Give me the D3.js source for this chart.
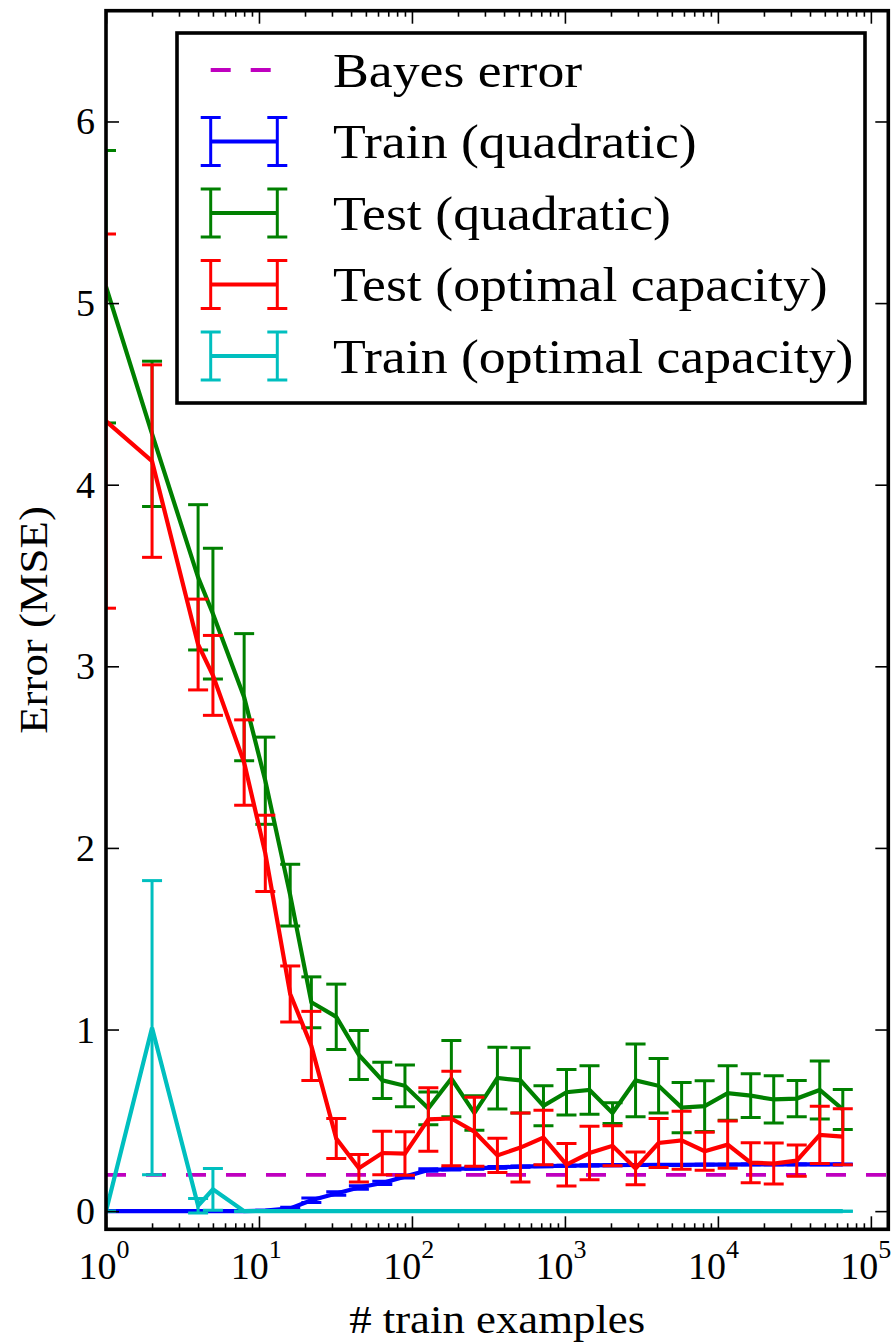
<!DOCTYPE html>
<html>
<head>
<meta charset="utf-8">
<script src="https://cdn.jsdelivr.net/npm/d3@7"></script>
<style>
  html, body { margin: 0; padding: 0; background: #fff; }
  svg { display: block; }
  svg text { font-family: "Liberation Serif", "DejaVu Serif", serif; }
</style>
</head>
<body>
<svg id="chart" width="894" height="1342"></svg>
<script>
// number of training examples (int(sqrt(2)^k), duplicates dropped)
const trainSizes = [1, 2, 4, 5, 8, 11, 16, 22, 32, 45, 64, 90, 128, 181, 256, 362, 512, 724,
    1024, 1448, 2048, 2896, 4096, 5792, 8192, 11585, 16384, 23170, 32768, 46340, 65536]

const trainQuadMean = [0, 0, 0, 0, 0, 0.003, 0.015, 0.06, 0.097, 0.13, 0.155, 0.19, 0.226, 0.232, 0.236, 0.241,
    0.245, 0.248, 0.25, 0.252, 0.253, 0.254, 0.255, 0.255, 0.256, 0.256, 0.257, 0.257, 0.257, 0.257, 0.257]
const trainQuadErr = [0, 0, 0, 0, 0, 0.002, 0.006, 0.012, 0.01, 0.01, 0.009, 0.008, 0.007, 0.006, 0.005, 0.005,
    0.004, 0.004, 0.003, 0.003, 0.003, 0.002, 0.002, 0.002, 0.002, 0.002, 0.002, 0.002, 0.002, 0.002, 0.002]

const testQuadMean = [5.09, 4.28, 3.49, 3.29, 2.83, 2.37, 1.74, 1.15, 1.07, 0.86, 0.72, 0.69, 0.566, 0.73, 0.54, 0.733,
    0.72, 0.58, 0.655, 0.667, 0.54, 0.72, 0.69, 0.57, 0.578, 0.65, 0.636, 0.615, 0.62, 0.667, 0.56]
const testQuadErr = [0.75, 0.40, 0.40, 0.36, 0.35, 0.24, 0.17, 0.14, 0.18, 0.135, 0.10, 0.115, 0.09, 0.21, 0.095, 0.17,
    0.18, 0.11, 0.125, 0.133, 0.057, 0.2, 0.15, 0.138, 0.14, 0.15, 0.12, 0.13, 0.1, 0.16, 0.11]

const testOptMean = [4.35, 4.13, 3.12, 2.95, 2.47, 1.97, 1.196, 0.91, 0.40, 0.236, 0.32, 0.317, 0.505, 0.51, 0.437, 0.307,
    0.35, 0.405, 0.256, 0.32, 0.36, 0.235, 0.375, 0.39, 0.33, 0.366, 0.267, 0.262, 0.278, 0.42, 0.41]
const testOptErr = [1.03, 0.53, 0.25, 0.22, 0.235, 0.21, 0.154, 0.19, 0.11, 0.076, 0.12, 0.12, 0.175, 0.26, 0.19, 0.094,
    0.19, 0.15, 0.117, 0.147, 0.11, 0.09, 0.135, 0.16, 0.105, 0.13, 0.11, 0.113, 0.086, 0.157, 0.154]

const trainOptMean = [0, 1.01, 0.03, 0.12, 0, 0, 0, 0, 0, 0, 0, 0, 0, 0, 0, 0,
    0, 0, 0, 0, 0, 0, 0, 0, 0, 0, 0, 0, 0, 0, 0]
const trainOptErr = [0, 0.81, 0.04, 0.115, 0, 0, 0, 0, 0, 0, 0, 0, 0, 0, 0, 0,
    0, 0, 0, 0, 0, 0, 0, 0, 0, 0, 0, 0, 0, 0, 0]

const bayesError = 0.2

const yTicks = [0, 1, 2, 3, 4, 5, 6]
const xDecades = [0, 1, 2, 3, 4, 5]

const legendLabels = ["Bayes error", "Train (quadratic)", "Test (quadratic)", "Test (optimal capacity)", "Train (optimal capacity)"]

const series = [
    {name: legendLabels[1], color: "#0000ff", mean: trainQuadMean, err: trainQuadErr},
    {name: legendLabels[2], color: "#008000", mean: testQuadMean, err: testQuadErr},
    {name: legendLabels[3], color: "#ff0000", mean: testOptMean, err: testOptErr},
    {name: legendLabels[4], color: "#00bfbf", mean: trainOptMean, err: trainOptErr}
]

const L = 106, R = 888.3, T = 10.7, B = 1229.3
const stretch = 1.12   // CM is wider than Times
const lineW = 4.2, barW = 3

const x = d3.scaleLog().domain([1, 1.3e5]).range([L, R])
const y = d3.scaleLinear().domain([-0.1, 6.61]).range([B, T])

const svg = d3.select("#chart")

svg.append("defs").append("clipPath").attr("id", "plotClip")
    .append("rect").attr("x", L).attr("y", T).attr("width", R - L).attr("height", B - T)

const plot = svg.append("g").attr("clip-path", "url(#plotClip)")

// bayes error line
plot.append("line")
    .attr("x1", L).attr("x2", R)
    .attr("y1", y(bayesError)).attr("y2", y(bayesError))
    .attr("stroke", "#bf00bf").attr("stroke-width", 3.8)
    .attr("stroke-dasharray", "20,20")

const line = d3.line().x(d => x(d.n)).y(d => y(d.m))

series.forEach(s => {
    let pts = trainSizes.map((n, i) => ({n: n, m: s.mean[i], e: s.err[i]}))
    let g = plot.append("g")
    g.append("path")
        .attr("d", line(pts))
        .attr("fill", "none")
        .attr("stroke", s.color)
        .attr("stroke-width", lineW)
        .attr("stroke-linejoin", "miter")

    let bars = g.selectAll("g.bar").data(pts).join("g").attr("class", "bar")
        .attr("stroke", s.color).attr("stroke-width", barW)
    bars.append("line")
        .attr("x1", d => x(d.n)).attr("x2", d => x(d.n))
        .attr("y1", d => y(d.m - d.e)).attr("y2", d => y(d.m + d.e))
    bars.append("line")
        .attr("x1", d => x(d.n) - 10).attr("x2", d => x(d.n) + 10)
        .attr("y1", d => y(d.m + d.e)).attr("y2", d => y(d.m + d.e))
    bars.append("line")
        .attr("x1", d => x(d.n) - 10).attr("x2", d => x(d.n) + 10)
        .attr("y1", d => y(d.m - d.e)).attr("y2", d => y(d.m - d.e))
})

// ticks (inward, on all four sides)
const majors = xDecades.map(d => Math.pow(10, d))
let minors = []
xDecades.forEach(d => {
    for (let k = 2; k < 10; k++) {
        let v = k * Math.pow(10, d)
        if (v < x.domain()[1]) minors.push(v)
    }
})

function tickAxis(axis, tr, vals, size) {
    let g = svg.append("g").attr("transform", tr)
        .call(axis.tickValues(vals).tickSize(size).tickFormat(""))
    g.select(".domain").remove()
    g.selectAll("line").attr("stroke", "#000").attr("stroke-width", 1.6)
}
tickAxis(d3.axisBottom(x), `translate(0,${B})`, majors, -13)
tickAxis(d3.axisBottom(x), `translate(0,${B})`, minors, -6)
tickAxis(d3.axisTop(x), `translate(0,${T})`, majors, -13)
tickAxis(d3.axisTop(x), `translate(0,${T})`, minors, -6)
tickAxis(d3.axisLeft(y), `translate(${L},0)`, yTicks, -13)
tickAxis(d3.axisRight(y), `translate(${R},0)`, yTicks, -13)

// frame
svg.append("rect")
    .attr("x", L).attr("y", T).attr("width", R - L).attr("height", B - T)
    .attr("fill", "none").attr("stroke", "#000").attr("stroke-width", 3.6)

// tick labels
svg.append("g").selectAll("text").data(yTicks).join("text")
    .attr("x", L - 11).attr("y", d => y(d) + 13)
    .attr("text-anchor", "end")
    .attr("font-size", 38)
    .text(d => d)

let xl = svg.append("g").selectAll("text").data(xDecades).join("text")
    .attr("x", d => x(Math.pow(10, d)) - 2 - d * 0.6).attr("y", 1279)
    .attr("text-anchor", "middle")
    .attr("font-size", 38)
xl.append("tspan").text("10")
xl.append("tspan").attr("dy", -21).attr("font-size", 26).text(d => d)

// axis labels
svg.append("text")
    .attr("transform", `translate(${(L + R) / 2},1333) scale(${stretch},1)`)
    .attr("text-anchor", "middle").attr("font-size", 40)
    .text("# train examples")
svg.append("text")
    .attr("transform", `translate(47,${(T + B) / 2}) rotate(-90) scale(${stretch},1)`)
    .attr("text-anchor", "middle").attr("font-size", 40)
    .text("Error (MSE)")

// legend
const leg = svg.append("g")
leg.append("rect")
    .attr("x", 177).attr("y", 33).attr("width", 688).attr("height", 370)
    .attr("fill", "#fff").attr("stroke", "#000").attr("stroke-width", 3.6)

const rowY = i => 70 + i * 71.5
leg.append("line")
    .attr("x1", 210.7).attr("x2", 270.7).attr("y1", rowY(0)).attr("y2", rowY(0))
    .attr("stroke", "#bf00bf").attr("stroke-width", 3.8).attr("stroke-dasharray", "20,20")

series.forEach((s, i) => {
    let cy = rowY(i + 1)
    let g = leg.append("g").attr("stroke", s.color)
    g.append("line").attr("x1", 210.7).attr("x2", 277.3).attr("y1", cy).attr("y2", cy).attr("stroke-width", lineW)
    ;[210.7, 277.3].forEach(cx => {
        g.append("line").attr("x1", cx).attr("x2", cx).attr("y1", cy - 24).attr("y2", cy + 24).attr("stroke-width", barW)
        g.append("line").attr("x1", cx - 10).attr("x2", cx + 10).attr("y1", cy - 24).attr("y2", cy - 24).attr("stroke-width", barW)
        g.append("line").attr("x1", cx - 10).attr("x2", cx + 10).attr("y1", cy + 24).attr("y2", cy + 24).attr("stroke-width", barW)
    })
})

leg.selectAll("text.lab").data(legendLabels).join("text")
    .attr("class", "lab")
    .attr("transform", (d, i) => `translate(333,${rowY(i) + 16.5}) scale(${stretch},1)`)
    .attr("font-size", 48)
    .text(d => d)
</script>
</body>
</html>
